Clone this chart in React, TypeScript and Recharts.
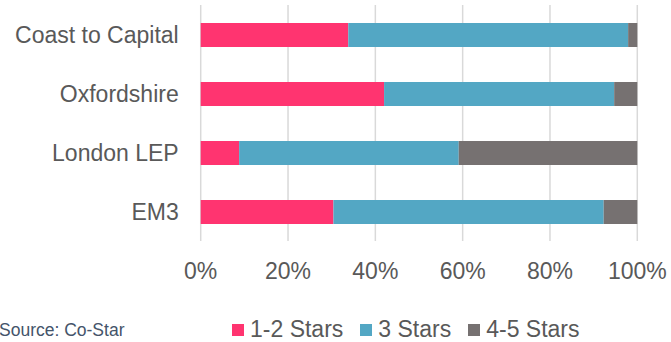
import { Bar, BarChart, CartesianGrid, Legend, XAxis, YAxis } from "recharts"

const regions = ["Coast to Capital", "Oxfordshire", "London LEP", "EM3"]
const oneTwoStars = [33.8, 42.0, 8.8, 30.4]
const threeStars = [64.1, 52.7, 50.3, 61.9]
const fourFiveStars = [2.1, 5.3, 40.9, 7.7]
const xTicks = [0, 20, 40, 60, 80, 100]

const series = [
  { key: "low", name: "1-2 Stars", color: "#FF3470" },
  { key: "mid", name: "3 Stars", color: "#53A7C4" },
  { key: "high", name: "4-5 Stars", color: "#767171" },
]

const data = regions.map((region, i) => ({
  region,
  low: oneTwoStars[i],
  mid: threeStars[i],
  high: fourFiveStars[i],
}))

const font = "'Liberation Sans', Arial, sans-serif"

// legend + source line sit under the axis
function ChartLegend() {
  return (
    <div style={{ position: "relative", height: 32, fontFamily: font }}>
      <span
        style={{
          position: "absolute",
          left: -1,
          top: 13,
          fontSize: 17.5,
          lineHeight: "15px",
          color: "#44546A",
          whiteSpace: "nowrap",
        }}
      >
        Source: Co-Star
      </span>
      <div style={{ position: "absolute", left: 232, top: 10, display: "flex", alignItems: "flex-start" }}>
        {series.map((s) => (
          <div key={s.key} style={{ display: "flex", alignItems: "flex-start", marginRight: 17 }}>
            <span style={{ width: 12, height: 12, marginTop: 4, marginRight: 6, background: s.color }} />
            <span style={{ fontSize: 23, lineHeight: "18px", color: "#595959", whiteSpace: "nowrap" }}>{s.name}</span>
          </div>
        ))}
      </div>
    </div>
  )
}

export default function App() {
  return (
    <div style={{ position: "absolute", left: 0, top: 0, width: 671, height: 342, background: "#fff" }}>
      <BarChart
        width={671}
        height={342}
        data={data}
        layout="vertical"
        barSize={24}
        margin={{ top: 5, right: 33.7, left: 0, bottom: 0 }}
      >
        <CartesianGrid horizontal={false} stroke="#D9D9D9" strokeWidth={1.5} />
        <XAxis
          type="number"
          domain={[0, 100]}
          ticks={xTicks}
          tickFormatter={(v) => `${v}%`}
          axisLine={false}
          tickLine={false}
          tickSize={0}
          tickMargin={22}
          height={69}
          interval={0}
          tick={{ fill: "#595959", fontSize: 23, fontFamily: font }}
        />
        <YAxis
          type="category"
          dataKey="region"
          width={200.7}
          axisLine={false}
          tickLine={false}
          tickSize={0}
          tickMargin={22}
          tick={{ fill: "#595959", fontSize: 23, fontFamily: font }}
        />
        <Legend verticalAlign="bottom" wrapperStyle={{ left: 0, width: 671 }} content={() => <ChartLegend />} />
        {series.map((s) => (
          <Bar key={s.key} dataKey={s.key} name={s.name} stackId="a" fill={s.color} isAnimationActive={false} />
        ))}
      </BarChart>
    </div>
  )
}
